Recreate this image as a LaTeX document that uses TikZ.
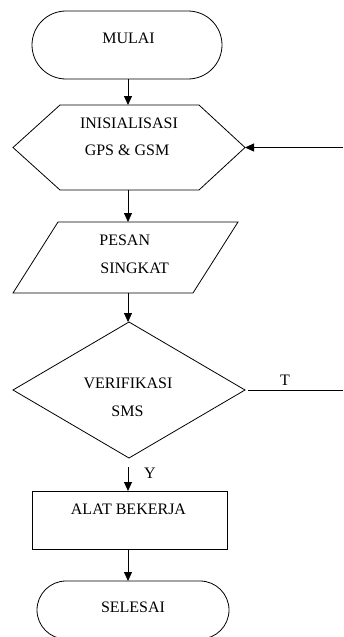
\documentclass[tikz,border=0pt]{standalone}
\usepackage{fontspec}
\setmainfont{Liberation Serif}
\usetikzlibrary{arrows.meta,shapes.misc}
\begin{document}
\begin{tikzpicture}[x=1pt,y=-1pt,line width=0.8pt,
  shapebox/.style={inner sep=0pt,outer sep=0pt},
  term/.style={draw,rounded rectangle,inner sep=0pt,outer sep=0pt},
  txt/.style={inner sep=0pt,anchor=base,font=\fontsize{16}{18}\selectfont},
  flow/.style={-{Triangle[width=8pt,length=9pt]}}]
\useasboundingbox (0,0) rectangle (343,637);
\clip (0,0) rectangle (343,637);
% shapes
\node[term,minimum width=190pt,minimum height=68pt] (mulai) at (127,45) {};
\node[shapebox,minimum width=232pt,minimum height=85pt] (hex) at (129,147.5) {};
\draw ([xshift=47pt]hex.north west) -- ([xshift=-46pt]hex.north east) -- (hex.east)
  -- ([xshift=-46pt]hex.south east) -- ([xshift=47pt]hex.south west) -- (hex.west) -- cycle;
\node[shapebox,minimum width=225pt,minimum height=71pt] (pesan) at (125.5,257.5) {};
\draw ([xshift=45pt]pesan.north west) -- (pesan.north east) -- ([xshift=-45pt]pesan.south east)
  -- (pesan.south west) -- cycle;
\node[shapebox,minimum width=232pt,minimum height=136pt] (verif) at (129,390) {};
\draw (verif.north) -- (verif.east) -- (verif.south) -- (verif.west) -- cycle;
\node[draw,shapebox,minimum width=195pt,minimum height=58pt] (alat) at (129.5,520) {};
\node[term,minimum width=192pt,minimum height=58pt] (selesai) at (133,610) {};
% texts
\node[txt] (tmulai) at (128.5,43) {MULAI};
\node[txt] (tinit1) at (129,128) {INISIALISASI};
\node[txt] (tinit2) at (127,155) {GPS \& GSM};
\node[txt,anchor=base west] (tpesan1) at (99,245) {PESAN};
\node[txt,anchor=base west] (tpesan2) at (100,273) {SINGKAT};
\node[txt] (tver1) at (128,388) {VERIFIKASI};
\node[txt] (tver2) at (127.5,416) {SMS};
\node[txt] (tT) at (285,385) {T};
\node[txt] (tY) at (150,478) {Y};
\node[txt] (talat) at (128.5,514) {ALAT BEKERJA};
\node[txt] (tsel) at (133,612) {SELESAI};
% connectors
\coordinate (inR) at (343,147.5);
\coordinate (tStart) at (248,390);
\coordinate (tEnd) at (343,390);
\coordinate (yStart) at (128,467);
\draw[flow] (128,79) coordinate (m0) -- (m0 |- hex.north);
\draw[flow] (inR) -- (hex.east);
\draw[flow] (128,190) coordinate (h0) -- (h0 |- pesan.north);
\draw[flow] (128,293) coordinate (p0) -- (p0 |- verif.north);
\draw (tStart) -- (tEnd);
\draw[flow] (yStart) -- (yStart |- alat.north);
\draw[flow] (128,549) coordinate (a0) -- (a0 |- selesai.north);
\end{tikzpicture}
\end{document}
